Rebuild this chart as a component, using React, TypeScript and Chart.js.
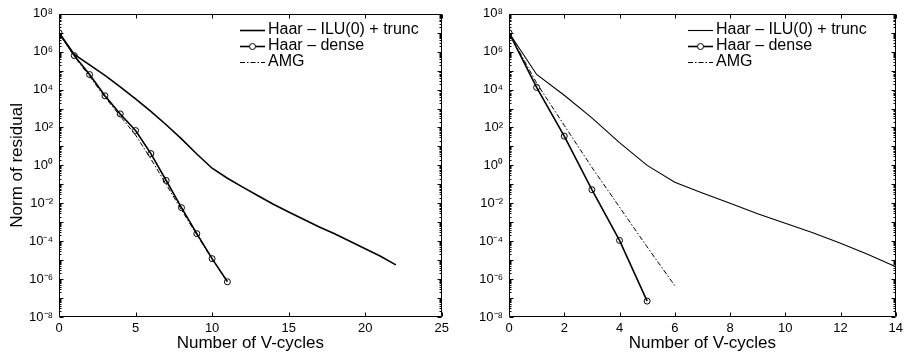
import React, { useEffect, useRef } from "react";
import { Chart, registerables } from "chart.js";

Chart.register(...registerables);

// ---------- data ----------
const leftIluCycles = [0, 1, 2, 3, 4, 5, 6, 7, 8, 9, 10, 11, 12, 13, 14, 15, 16, 17, 18, 19, 20, 21, 22];
const leftIluResidual = [1e7, 7.1e5, 2.0e5, 5.6e4, 1.4e4, 3.2e3, 7.1e2, 1.4e2, 25, 4.0, 0.71, 0.21, 0.071, 0.025, 8.9e-3, 3.5e-3, 1.4e-3, 5.6e-4, 2.5e-4, 1.0e-4, 4.0e-5, 1.6e-5, 5.6e-6];
const leftDenseCycles = [0, 1, 2, 3, 4, 5, 6, 7, 8, 9, 10, 11];
const leftDenseResidual = [1e7, 6.2e5, 6.2e4, 4.7e3, 5.2e2, 69, 4.2, 0.16, 5.9e-3, 2.5e-4, 1.2e-5, 7.2e-7];
const leftAmgCycles = [0, 1, 2, 3, 4, 5, 6, 7, 8, 9, 10, 11];
const leftAmgResidual = [1e7, 5.6e5, 5.0e4, 4.0e3, 4.0e2, 40, 2.2, 0.1, 4.5e-3, 2.2e-4, 1.1e-5, 7.9e-7];

const rightIluCycles = [0, 1, 2, 3, 4, 5, 6, 7, 8, 9, 10, 11, 12, 13, 14];
const rightIluResidual = [1e7, 6.3e4, 5.0e3, 3.2e2, 16, 1.0, 0.13, 0.035, 0.01, 2.8e-3, 8.9e-4, 2.8e-4, 7.9e-5, 2.0e-5, 4.5e-6];
const rightDenseCycles = [0, 1, 2, 3, 4, 5];
const rightDenseResidual = [1e7, 1.3e4, 35, 0.052, 1.1e-4, 6.9e-8];
const rightAmgCycles = [0, 1, 2, 3, 4, 5, 6];
const rightAmgResidual = [1e7, 2.2e4, 1.3e2, 0.79, 6.3e-3, 5.0e-5, 4.5e-7];

const seriesLabels = ["Haar – ILU(0) + trunc", "Haar – dense", "AMG"];
const yTickValues = [1e-8, 1e-6, 1e-4, 1e-2, 1, 1e2, 1e4, 1e6, 1e8];
const yTickLabels = ["10⁻⁸", "10⁻⁶", "10⁻⁴", "10⁻²", "10⁰", "10²", "10⁴", "10⁶", "10⁸"];
const xTitle = "Number of V-cycles";
const yTitle = "Norm of residual";

// ---------- styling ----------
const FONT = "'Liberation Sans', Arial, Helvetica, sans-serif";

const pts = (xs: number[], ys: number[]) => xs.map((x, i) => ({ x, y: ys[i] }));

const framePlugin = {
  id: "frameTicks",
  afterDatasetsDraw(chart: any) {
    const { ctx, chartArea: a, scales } = chart;
    const L = Math.round(a.left) + 0.5;
    const R = Math.round(a.right) - 0.5;
    const T = Math.round(a.top) + 0.5;
    const B = Math.round(a.bottom) - 0.5;
    ctx.save();
    ctx.strokeStyle = "#000";
    ctx.lineWidth = 1;
    ctx.setLineDash([]);
    ctx.beginPath();
    ctx.rect(L, T, R - L, B - T);
    ctx.stroke();
    ctx.beginPath();
    for (const t of scales.x.ticks) {
      const p = Math.round(scales.x.getPixelForValue(t.value)) + 0.5;
      ctx.moveTo(p, B); ctx.lineTo(p, B - 4);
      ctx.moveTo(p, T); ctx.lineTo(p, T + 4);
    }
    for (let e = -8; e <= 8; e++) {
      const p = Math.round(scales.y.getPixelForValue(Math.pow(10, e))) + 0.5;
      ctx.moveTo(L, p); ctx.lineTo(L + 4, p);
      ctx.moveTo(R, p); ctx.lineTo(R - 4, p);
      if (e < 8) {
        for (let m = 2; m <= 9; m++) {
          const q = Math.round(scales.y.getPixelForValue(m * Math.pow(10, e))) + 0.5;
          ctx.moveTo(L, q); ctx.lineTo(L + 2, q);
          ctx.moveTo(R, q); ctx.lineTo(R - 2, q);
        }
      }
    }
    ctx.stroke();
    ctx.restore();
  },
};

const legendPlugin = {
  id: "insetLegend",
  afterDraw(chart: any, _args: any, opts: any) {
    const { ctx } = chart;
    chart.data.datasets.forEach((ds: any, i: number) => {
      const y = opts.y + i * opts.rowH;
      ctx.save();
      ctx.strokeStyle = "#000";
      ctx.lineWidth = ds.borderWidth;
      ctx.setLineDash(ds.borderDash || []);
      ctx.beginPath();
      ctx.moveTo(opts.x, y + 0.5);
      ctx.lineTo(opts.x + opts.len, y + 0.5);
      ctx.stroke();
      ctx.setLineDash([]);
      if (ds.pointRadius > 0) {
        ctx.lineWidth = 1;
        ctx.beginPath();
        ctx.arc(opts.x + opts.len / 2, y + 0.5, ds.pointRadius, 0, Math.PI * 2);
        ctx.fillStyle = "#fff";
        ctx.fill();
        ctx.stroke();
      }
      ctx.fillStyle = "#000";
      ctx.font = `${opts.fontSize}px ${FONT}`;
      ctx.textBaseline = "middle";
      ctx.textAlign = "left";
      ctx.fillText(ds.label, opts.x + opts.len + opts.gap, y);
      ctx.restore();
    });
  },
};

type PanelSpec = {
  width: number;
  xMax: number;
  xStep: number;
  yAxisWidth: number;
  padRight: number;
  showYTitle: boolean;
  iluWidth: number;
  data: { x: number; y: number }[][];
  legendX: number;
};

function buildConfig(p: PanelSpec): any {
  const [ilu, dense, amg] = p.data;
  return {
    type: "line",
    data: {
      datasets: [
        {
          label: seriesLabels[0],
          data: ilu,
          borderColor: "#000",
          borderWidth: p.iluWidth,
          pointRadius: 0,
          tension: 0,
          fill: false,
        },
        {
          label: seriesLabels[1],
          data: dense,
          borderColor: "#000",
          borderWidth: 1.6,
          pointRadius: 3,
          pointBorderWidth: 1,
          pointBorderColor: "#000",
          pointBackgroundColor: "rgba(0,0,0,0)",
          tension: 0,
          fill: false,
        },
        {
          label: seriesLabels[2],
          data: amg,
          borderColor: "#000",
          borderWidth: 1,
          borderDash: [5, 2, 1.5, 2],
          pointRadius: 0,
          tension: 0,
          fill: false,
        },
      ],
    },
    options: {
      animation: false,
      responsive: false,
      maintainAspectRatio: false,
      events: [],
      layout: { padding: { left: 0, right: p.padRight, top: 13, bottom: 2 } },
      plugins: {
        legend: { display: false },
        tooltip: { enabled: false },
        insetLegend: { x: p.legendX, y: 30, rowH: 16, len: 25, gap: 3, fontSize: 16 },
      },
      scales: {
        x: {
          type: "linear",
          min: 0,
          max: p.xMax,
          grid: { display: false, drawTicks: false },
          border: { display: false },
          ticks: {
            stepSize: p.xStep,
            color: "#000",
            font: { family: FONT, size: 13 },
            padding: 4,
            maxRotation: 0,
            autoSkip: false,
          },
          title: {
            display: true,
            text: xTitle,
            color: "#000",
            font: { family: FONT, size: 17 },
            padding: 0,
          },
          afterFit: (s: any) => {
            s.height = 37;
          },
        },
        y: {
          type: "logarithmic",
          min: 1e-8,
          max: 1e8,
          grid: { display: false, drawTicks: false },
          border: { display: false },
          afterBuildTicks: (s: any) => {
            s.ticks = yTickValues.map((v) => ({ value: v }));
          },
          ticks: {
            color: "#000",
            font: { family: FONT, size: 13 },
            padding: 6,
            autoSkip: false,
            callback: (v: number) => {
              const i = yTickValues.findIndex((t) => Math.abs(Math.log10(t) - Math.log10(v)) < 1e-6);
              return i >= 0 ? yTickLabels[i] : "";
            },
          },
          title: {
            display: p.showYTitle,
            text: yTitle,
            color: "#000",
            font: { family: FONT, size: 17 },
            padding: { top: 7, bottom: 0 },
          },
          afterFit: (s: any) => {
            s.width = p.yAxisWidth;
          },
        },
      },
    },
    plugins: [framePlugin, legendPlugin],
  };
}

function Panel({ spec, left }: { spec: PanelSpec; left: number }) {
  const ref = useRef<HTMLCanvasElement | null>(null);
  useEffect(() => {
    if (!ref.current) return;
    const chart = new Chart(ref.current, buildConfig(spec));
    return () => chart.destroy();
  }, []);
  return (
    <canvas
      ref={ref}
      width={spec.width}
      height={356}
      style={{ position: "absolute", left, top: 0, width: spec.width, height: 356 }}
    />
  );
}

export default function App() {
  const leftSpec: PanelSpec = {
    width: 453,
    xMax: 25,
    xStep: 5,
    yAxisWidth: 59,
    padRight: 7,
    showYTitle: true,
    iluWidth: 1.6,
    data: [
      pts(leftIluCycles, leftIluResidual),
      pts(leftDenseCycles, leftDenseResidual),
      pts(leftAmgCycles, leftAmgResidual),
    ],
    legendX: 240,
  };
  const rightSpec: PanelSpec = {
    width: 454,
    xMax: 14,
    xStep: 2,
    yAxisWidth: 56,
    padRight: 10,
    showYTitle: false,
    iluWidth: 1.1,
    data: [
      pts(rightIluCycles, rightIluResidual),
      pts(rightDenseCycles, rightDenseResidual),
      pts(rightAmgCycles, rightAmgResidual),
    ],
    legendX: 235,
  };
  return (
    <div style={{ position: "absolute", left: 0, top: 0, width: 907, height: 356, background: "#fff" }}>
      <Panel spec={leftSpec} left={0} />
      <Panel spec={rightSpec} left={453} />
    </div>
  );
}
